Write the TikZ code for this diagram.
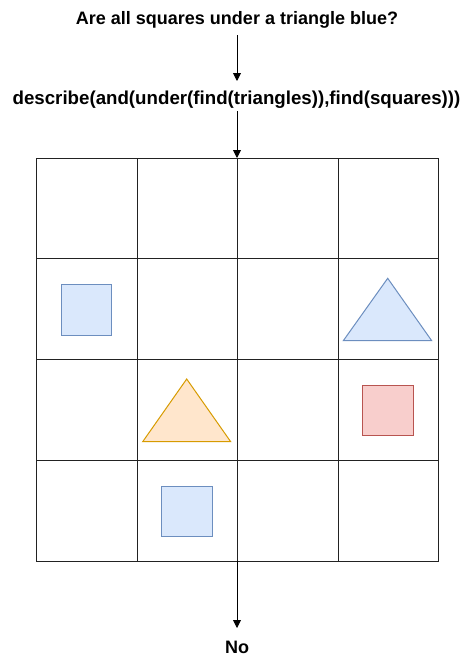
\documentclass[tikz,border=0pt]{standalone}
\usepackage{fontspec}
\setmainfont{Liberation Sans}
\usetikzlibrary{arrows.meta}
\definecolor{bfill}{HTML}{DAE8FC}\definecolor{bline}{HTML}{6C8EBF}
\definecolor{ofill}{HTML}{FFE6CC}\definecolor{oline}{HTML}{D79B00}
\definecolor{rfill}{HTML}{F8CECC}\definecolor{rline}{HTML}{B85450}
\definecolor{gridc}{HTML}{222222}
\begin{document}
\begin{tikzpicture}[x=1pt,y=-1pt,
  lbl/.style={font=\bfseries\fontsize{18}{21}\selectfont, inner sep=0pt, text=black},
  conn/.style={draw=black, line width=0.9pt, -{Triangle[length=8pt,width=8pt]}},
  cell/.style={draw=gridc, line width=1pt, minimum width=100.5pt, minimum height=100.75pt, inner sep=0pt},
  bshape/.style={fill=bfill, draw=bline, line width=1pt, line join=miter},
  oshape/.style={fill=ofill, draw=oline, line width=1pt},
  rshape/.style={fill=rfill, draw=rline, line width=1pt}]
\useasboundingbox (0,0) rectangle (462,657);
\node[lbl] (q) at (237,20) {Are all squares under a triangle blue?};
\node[lbl, font=\bfseries\fontsize{18.7}{21}\selectfont] (p) at (236.5,100) {describe(and(under(find(triangles)),find(squares)))};
\node[lbl] (ans) at (237,647.5) {No};
% grid
\foreach \r in {0,1,2,3}{
  \foreach \c in {0,1,2,3}{
    \node[cell] (c\r\c) at ({36.5+100.5*\c+50.25},{158+100.75*\r+50.375}) {};
  }
}
\coordinate (gtop) at (237,158);
\coordinate (gbot) at (237,561);
\coordinate (qb) at (237,35);
\coordinate (pt) at (237,81);
\coordinate (pb) at (237,111);
\coordinate (nt) at (237,628);
\draw[conn] (qb) -- (pt);
\draw[conn] (pb) -- (gtop);
\draw[conn] (gbot) -- (nt);
% shapes
\draw[bshape] (61,284.5) rectangle (111.5,335);
\draw[bshape] (343.3,340.7) -- (387.7,278.3) -- (431.7,340.7) -- cycle;
\draw[oshape] (142.7,441.7) -- (186.7,379) -- (230.7,441.7) -- cycle;
\draw[rshape] (362.3,385.3) rectangle (413,435.3);
\draw[bshape] (161.5,486) rectangle (212,536.3);
\end{tikzpicture}
\end{document}
